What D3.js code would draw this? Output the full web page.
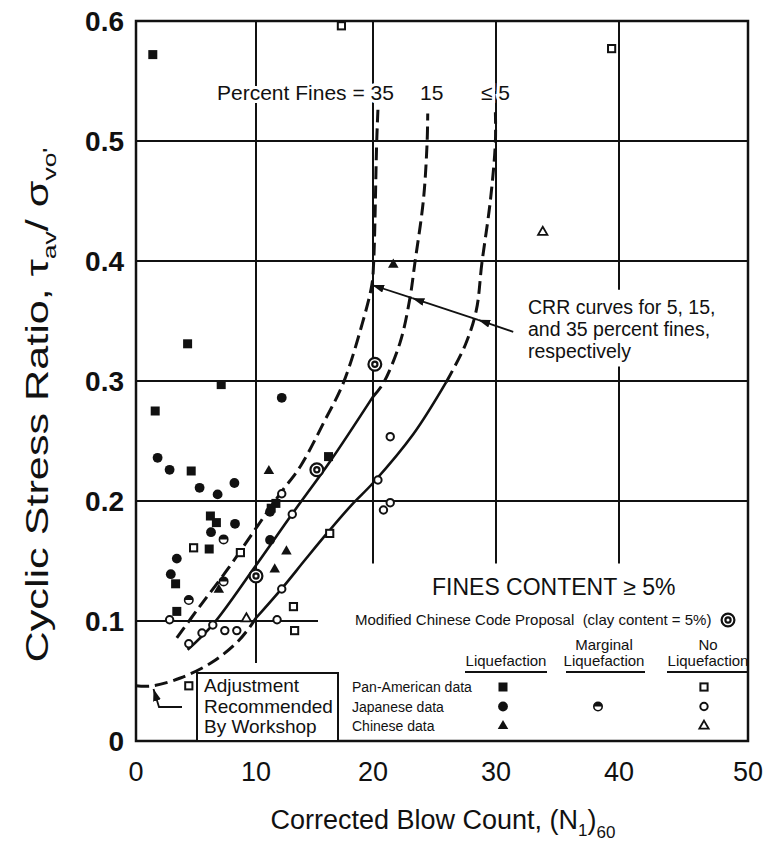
<!doctype html>
<html>
<head>
<meta charset="utf-8">
<title>SPT clean-sand base curves</title>
<script src="https://d3js.org/d3.v7.min.js"></script>
<style>
  body { margin: 0; background: #fff; }
  text { font-family: 'Liberation Sans', Arial, sans-serif; fill: #111; }
  .tick-y { font-size: 28px; font-weight: bold; text-anchor: end; }
  .tick-x { font-size: 27px; text-anchor: middle; }
  .small { font-size: 14px; }
  .head { font-size: 15px; text-anchor: middle; }
</style>
</head>
<body>
<svg id="chart" width="767" height="846"></svg>
<script>
// axis ticks
var xTicks = [0, 10, 20, 30, 40, 50];
var yTicks = [0, 0.1, 0.2, 0.3, 0.4, 0.5, 0.6];
var yTickLabels = ['0', '0.1', '0.2', '0.3', '0.4', '0.5', '0.6'];

// CRR curves, points are [(N1)60, CSR]
var fines35 = [[3.4, 0.086], [5.3, 0.112], [7.7, 0.144], [10.05, 0.178], [12.05, 0.206], [13.8, 0.229],
  [15.9, 0.2675], [17.45, 0.298], [19.0, 0.345], [19.9, 0.38], [20.05, 0.398], [20.3, 0.499], [20.4, 0.526]];
var fines15Solid = [[4.3, 0.076], [6.4, 0.097], [9.9, 0.145], [13.15, 0.19], [16.3, 0.2325], [20.0, 0.287]];
var fines15Dashed = [[20.0, 0.287], [20.8, 0.2975], [22.2, 0.332], [23.0, 0.369], [23.4, 0.398],
  [24.1, 0.451], [24.4, 0.499], [24.45, 0.523]];
var fines5Solid = [[10.0, 0.1025], [12.2, 0.127], [14.2, 0.151], [16.15, 0.174], [18.2, 0.197],
  [20.0, 0.215], [23.3, 0.256], [25.95, 0.299]];
var fines5Dashed = [[25.95, 0.299], [27.5, 0.33], [28.4, 0.359], [28.85, 0.398], [29.55, 0.451],
  [29.95, 0.499], [29.95, 0.524]];
var workshopAdjust = [[0, 0.046], [1.3, 0.0458], [3.7, 0.0525], [6.4, 0.066], [8.4, 0.082],
  [9.3, 0.0925], [10.0, 0.1025]];

// field case histories
var panAmLiq = [[1.4, 0.572], [4.3, 0.331], [7.1, 0.297], [1.6, 0.275], [4.6, 0.225], [16.2, 0.237],
  [11.7, 0.198], [11.3, 0.194], [6.2, 0.1875], [6.7, 0.182], [6.1, 0.16], [3.3, 0.131], [3.4, 0.108]];
var panAmNoLiq = [[17.3, 0.596], [39.4, 0.577], [4.8, 0.161], [8.7, 0.157], [13.2, 0.112], [13.3, 0.092],
  [4.4, 0.046], [16.3, 0.173]];
var japanLiq = [[1.8, 0.236], [2.8, 0.226], [5.3, 0.211], [6.8, 0.2055], [8.2, 0.215], [12.2, 0.286],
  [11.2, 0.191], [8.25, 0.181], [6.25, 0.174], [3.4, 0.152], [2.9, 0.139], [11.2, 0.1675]];
var japanMarginal = [[7.3, 0.168], [7.3, 0.133], [4.4, 0.1175]];
var japanNoLiq = [[2.8, 0.101], [4.4, 0.081], [5.5, 0.09], [6.4, 0.0967], [7.4, 0.092], [8.4, 0.092],
  [11.8, 0.101], [12.2, 0.1267], [13.1, 0.189], [12.2, 0.206], [21.4, 0.2536], [20.4, 0.2175],
  [21.4, 0.1986], [20.85, 0.1925]];
var chinaLiq = [[21.65, 0.397], [11.1, 0.225], [12.6, 0.158], [11.6, 0.143], [6.9, 0.126]];
var chinaNoLiq = [[33.8, 0.424], [9.2, 0.102]];
var chineseCode = [[20.15, 0.314], [15.2, 0.226], [10.0, 0.1375]];

// annotation arrow: text start, then hits on 5, 15 and 35 % curves
var crrArrow = [[31.4, 0.341], [28.55, 0.351], [23.2, 0.369], [19.92, 0.38]];

var svg = d3.select('#chart');

// scanned figure is a little uneven between gridlines, so a polylinear scale
var x = d3.scaleLinear().domain(xTicks).range([136, 256, 373, 496, 619, 748]);
var y = d3.scaleLinear().domain([0, 0.6]).range([741, 21]);

var defs = svg.append('defs');
defs.append('marker').attr('id', 'arrow')
  .attr('viewBox', '0 0 12 8').attr('refX', 12).attr('refY', 4)
  .attr('markerWidth', 12).attr('markerHeight', 8).attr('markerUnits', 'userSpaceOnUse')
  .attr('orient', 'auto')
  .append('path').attr('d', 'M0,0 L12,4 L0,8 Z').attr('fill', '#111');

// gridlines (partial, like the original)
var grid = svg.append('g').attr('stroke', '#111').attr('stroke-width', 2);
var hLines = [[0.1, 0, 15.3], [0.2, 0, 50], [0.3, 0, 50], [0.4, 0, 50], [0.5, 0, 50]];
hLines.forEach(function(h) {
  grid.append('line').attr('x1', x(h[1])).attr('x2', x(h[2])).attr('y1', y(h[0])).attr('y2', y(h[0]));
});
var vLines = [[10, 0.065, 0.6], [20, 0.148, 0.6], [30, 0.148, 0.6], [40, 0.376, 0.6], [40, 0.148, 0.312]];
vLines.forEach(function(v) {
  grid.append('line').attr('x1', x(v[0])).attr('x2', x(v[0])).attr('y1', y(v[1])).attr('y2', y(v[2]));
});

// frame
svg.append('rect').attr('x', x(0)).attr('y', y(0.6))
  .attr('width', x(50) - x(0)).attr('height', y(0) - y(0.6))
  .attr('fill', 'none').attr('stroke', '#111').attr('stroke-width', 2.5);

// tick labels
svg.selectAll('.tick-y').data(yTicks).enter().append('text')
  .attr('class', 'tick-y').attr('x', 124).attr('y', d => y(d) + 10)
  .text((d, i) => yTickLabels[i]);
svg.selectAll('.tick-x').data(xTicks).enter().append('text')
  .attr('class', 'tick-x').attr('x', d => x(d)).attr('y', 781)
  .text(d => d);

// curves
var line = d3.line().x(d => x(d[0])).y(d => y(d[1])).curve(d3.curveCatmullRom.alpha(0.5));
function drawCurve(pts, dashed) {
  svg.append('path').datum(pts).attr('d', line)
    .attr('fill', 'none').attr('stroke', '#111')
    .attr('stroke-width', dashed ? 3 : 2.6)
    .attr('stroke-dasharray', dashed ? '13,6' : null);
}
drawCurve(workshopAdjust, true);
drawCurve(fines35, true);
drawCurve(fines15Solid, false);
drawCurve(fines15Dashed, true);
drawCurve(fines5Solid, false);
drawCurve(fines5Dashed, true);

// symbols
function drawSymbol(g, kind) {
  if (kind == 'sqFill') {
    g.append('rect').attr('x', -4.5).attr('y', -4.5).attr('width', 9).attr('height', 9).attr('fill', '#111');
  } else if (kind == 'sqOpen') {
    g.append('rect').attr('x', -3.6).attr('y', -3.6).attr('width', 7.2).attr('height', 7.2)
      .attr('fill', '#fff').attr('stroke', '#111').attr('stroke-width', 2);
  } else if (kind == 'cirFill') {
    g.append('circle').attr('r', 4.9).attr('fill', '#111');
  } else if (kind == 'cirOpen') {
    g.append('circle').attr('r', 3.7).attr('fill', '#fff').attr('stroke', '#111').attr('stroke-width', 2);
  } else if (kind == 'cirHalf') {
    g.append('circle').attr('r', 4.2).attr('fill', '#fff').attr('stroke', '#111').attr('stroke-width', 1.6);
    g.append('path').attr('d', 'M-4.2,0 A4.2,4.2 0 0 1 4.2,0 Z').attr('fill', '#111');
  } else if (kind == 'triFill') {
    g.append('path').attr('d', d3.symbol(d3.symbolTriangle).size(48)()).attr('fill', '#111');
  } else if (kind == 'triOpen') {
    g.append('path').attr('d', d3.symbol(d3.symbolTriangle).size(38)())
      .attr('fill', '#fff').attr('stroke', '#111').attr('stroke-width', 1.8);
  } else if (kind == 'cirDot') {
    g.append('circle').attr('r', 6.4).attr('fill', '#fff').attr('stroke', '#111').attr('stroke-width', 2.2);
    g.append('circle').attr('r', 2.6).attr('fill', '#fff').attr('stroke', '#111').attr('stroke-width', 2.2);
  }
}
function drawPoints(pts, kind) {
  pts.forEach(function(d) {
    var g = svg.append('g').attr('transform', 'translate(' + x(d[0]) + ',' + y(d[1]) + ')');
    drawSymbol(g, kind);
  });
}
drawPoints(panAmLiq, 'sqFill');
drawPoints(panAmNoLiq, 'sqOpen');
drawPoints(japanLiq, 'cirFill');
drawPoints(japanMarginal, 'cirHalf');
drawPoints(japanNoLiq, 'cirOpen');
drawPoints(chinaLiq, 'triFill');
drawPoints(chinaNoLiq, 'triOpen');
drawPoints(chineseCode, 'cirDot');

// "Percent Fines" labels, white halo cuts the gridlines
var fineLbl = svg.append('g').style('font-size', '21px')
  .attr('stroke', '#fff').attr('stroke-width', 6).attr('paint-order', 'stroke');
fineLbl.append('text').attr('x', 217).attr('y', 100).text('Percent Fines = 35');
fineLbl.append('text').attr('x', 420).attr('y', 100).text('15');
fineLbl.append('text').attr('x', 481).attr('y', 100).text('\u2264 5');

// CRR note and arrows
var crr = svg.append('g').style('font-size', '19.5px');
['CRR curves for 5, 15,', 'and 35 percent fines,', 'respectively'].forEach(function(t, i) {
  crr.append('text').attr('x', 528).attr('y', 314 + i * 22).text(t);
});
for (var i = 0; i < crrArrow.length - 1; i++) {
  svg.append('line')
    .attr('x1', x(crrArrow[i][0])).attr('y1', y(crrArrow[i][1]))
    .attr('x2', x(crrArrow[i + 1][0])).attr('y2', y(crrArrow[i + 1][1]))
    .attr('stroke', '#111').attr('stroke-width', 1.8).attr('marker-end', 'url(#arrow)');
}

// workshop adjustment box
svg.append('rect').attr('x', 197).attr('y', 673).attr('width', 141).attr('height', 68)
  .attr('fill', '#fff').attr('stroke', '#111').attr('stroke-width', 2);
['Adjustment', 'Recommended', 'By Workshop'].forEach(function(t, i) {
  svg.append('text').attr('x', 204).attr('y', 692 + i * 20.5).style('font-size', '19px').text(t);
});
svg.append('path').attr('d', 'M182,707 L159,707 L153.5,689')
  .attr('fill', 'none').attr('stroke', '#111').attr('stroke-width', 1.8).attr('marker-end', 'url(#arrow)');

// legend
svg.append('text').attr('x', 432).attr('y', 595).style('font-size', '23px').text('FINES CONTENT \u2265 5%');
svg.append('text').attr('x', 355).attr('y', 625).style('font-size', '15px').style('white-space', 'pre')
  .text('Modified Chinese Code Proposal  (clay content = 5%)');
drawSymbol(svg.append('g').attr('transform', 'translate(728,620)'), 'cirDot');

var heads = [[506, null, 'Liquefaction', 465, 547], [604, 'Marginal', 'Liquefaction', 566, 645],
  [708, 'No', 'Liquefaction', 667, 747]];
heads.forEach(function(h) {
  if (h[1]) svg.append('text').attr('class', 'head').attr('x', h[0]).attr('y', 650).text(h[1]);
  svg.append('text').attr('class', 'head').attr('x', h[0]).attr('y', 666).text(h[2]);
  svg.append('line').attr('x1', h[3]).attr('x2', h[4]).attr('y1', 672).attr('y2', 672)
    .attr('stroke', '#111').attr('stroke-width', 2);
});
var rows = [['Pan-American data', 'sqFill', null, 'sqOpen'], ['Japanese data', 'cirFill', 'cirHalf', 'cirOpen'],
  ['Chinese data', 'triFill', null, 'triOpen']];
var colX = [503, 598, 704];
rows.forEach(function(r, i) {
  var ry = 687 + i * 19.5;
  svg.append('text').attr('class', 'small').attr('x', 352).attr('y', ry + 5).text(r[0]);
  for (var c = 0; c < 3; c++) {
    if (r[c + 1]) drawSymbol(svg.append('g').attr('transform', 'translate(' + colX[c] + ',' + ry + ')'), r[c + 1]);
  }
});

// axis titles
var xt = svg.append('text').attr('x', 443).attr('y', 829).attr('text-anchor', 'middle').style('font-size', '27px');
xt.append('tspan').text('Corrected Blow Count, (N');
xt.append('tspan').attr('dy', 7).style('font-size', '17px').text('1');
xt.append('tspan').attr('dy', -7).text(')');
xt.append('tspan').attr('dy', 9).style('font-size', '17px').text('60');

var yt = svg.append('text').attr('text-anchor', 'middle').style('font-size', '31px');
yt.append('tspan').text('Cyclic Stress Ratio, \u03c4');
yt.append('tspan').attr('dy', 8).style('font-size', '19px').text('av');
yt.append('tspan').attr('dy', -8).text('/ \u03c3');
yt.append('tspan').attr('dy', 8).style('font-size', '19px').text("vo'");
var ylen = yt.node().getComputedTextLength();
yt.attr('transform', 'translate(48,405) rotate(-90) scale(' + (515 / ylen) + ',1)');
</script>
</body>
</html>
